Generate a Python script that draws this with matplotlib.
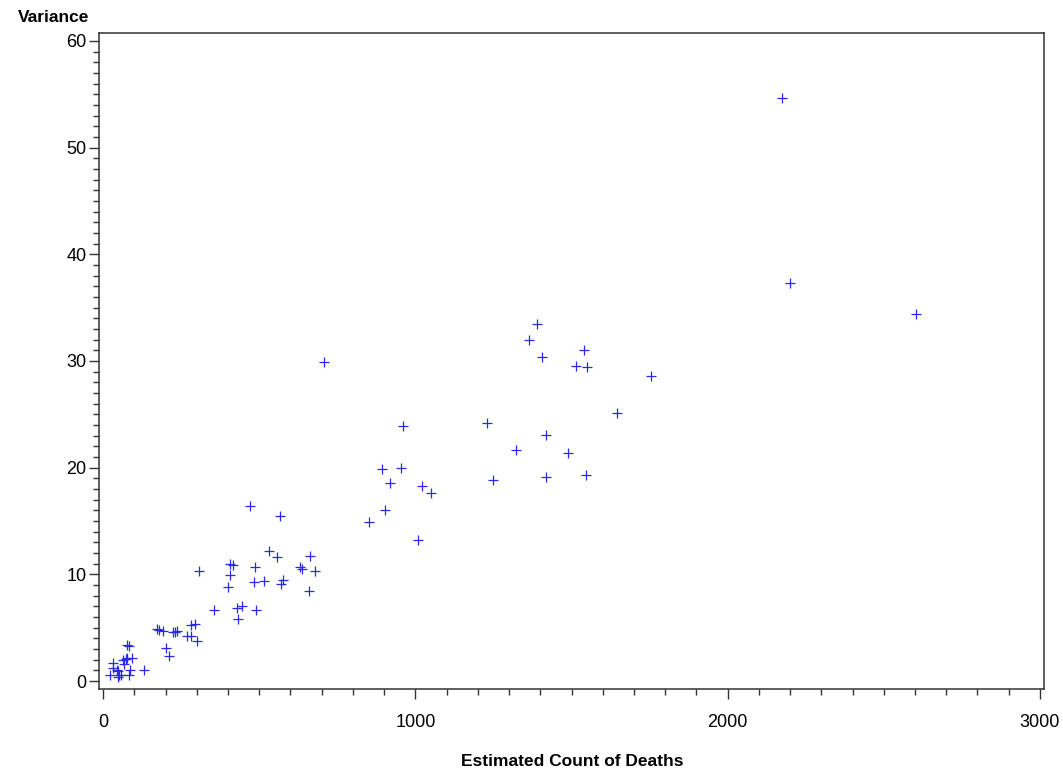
import matplotlib
matplotlib.use("Agg")
import matplotlib.pyplot as plt
from matplotlib.ticker import MultipleLocator

plt.rcParams['font.family'] = ['Liberation Sans Narrow', 'Liberation Sans', 'DejaVu Sans']

deaths = [2174, 2200, 2603,
          1389, 1364, 1406, 1541, 1515, 1550, 1755, 1646, 1229, 1418, 1321, 1488,
          1248, 1418, 1545,
          962, 893, 954, 919, 1022, 1050, 904, 853, 1010,
          708,
          470, 568, 532, 556, 664, 307, 407, 415, 487, 630, 636, 680, 407, 401,
          483, 515, 577, 570, 660, 355, 428, 445, 490, 431, 280, 293,
          268, 281, 302,
          172, 179, 192, 224, 231, 238, 203, 211,
          78, 83, 73, 76, 94, 63, 68, 33, 31, 44, 49, 87, 132, 21, 51, 57, 82, 48]
variance = [54.65, 37.3, 34.4,
            33.5, 32.0, 30.4, 31.0, 29.5, 29.4, 28.6, 25.1, 24.2, 23.1, 21.65, 21.4,
            18.85, 19.15, 19.3,
            23.9, 19.9, 20.0, 18.6, 18.25, 17.6, 16.0, 14.9, 13.2,
            29.9,
            16.4, 15.5, 12.15, 11.6, 11.7, 10.3, 11.0, 10.9, 10.7, 10.65, 10.5, 10.35, 9.95, 8.8,
            9.3, 9.4, 9.5, 9.05, 8.4, 6.7, 6.8, 7.0, 6.7, 5.8, 5.25, 5.35,
            4.2, 4.2, 3.75,
            4.9, 4.8, 4.7, 4.6, 4.55, 4.7, 3.05, 2.3,
            3.4, 3.3, 2.05, 2.2, 2.15, 2.0, 1.6, 1.7, 1.2, 1.0, 0.97, 1.0, 1.06, 0.6, 0.55, 0.55, 0.6, 0.35]

x_ticks = [0, 1000, 2000, 3000]
y_ticks = [0, 10, 20, 30, 40, 50, 60]

fig = plt.figure(figsize=(10.63, 7.72), dpi=100)
ax = fig.add_axes([99/1063, 1 - 689/772, (1044-99)/1063, (689-33)/772])

ax.scatter(deaths, variance, marker='+', s=60, color='#2a2ae6', linewidths=0.9, zorder=3)

ax.set_xlim(-13, 3013)
ax.set_ylim(-0.75, 60.75)
ax.set_xticks(x_ticks)
ax.set_yticks(y_ticks)
ax.xaxis.set_minor_locator(MultipleLocator(100))
ax.yaxis.set_minor_locator(MultipleLocator(1))
ax.tick_params(axis='both', which='major', direction='out', length=7, width=1,
               color='#333333', labelsize=13)
ax.tick_params(axis='both', which='minor', direction='out', length=4, width=1,
               color='#333333')
ax.tick_params(axis='x', which='both', pad=11)
ax.tick_params(axis='y', which='major', pad=2)
for sp in ax.spines.values():
    sp.set_color('#333333')
    sp.set_linewidth(1.1)

fig.text(18/1063, 1 - 18/772, 'Variance', fontsize=12.5, fontweight='bold',
         ha='left', va='center')
fig.text(572/1063, 1 - 762/772, 'Estimated Count of Deaths', fontsize=12.5,
         fontweight='bold', ha='center', va='center')

fig.savefig('out.png', dpi=100)
